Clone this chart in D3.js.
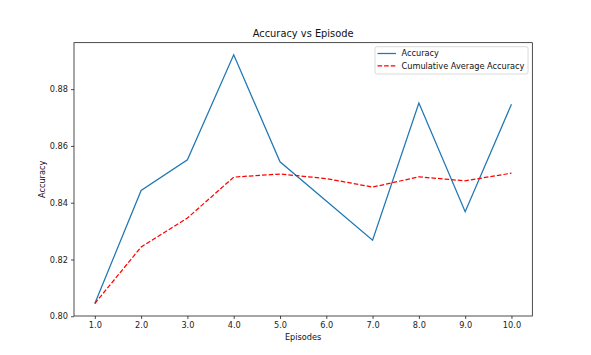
<!DOCTYPE html>
<html>
<head>
<meta charset="utf-8">
<script src="https://cdn.jsdelivr.net/npm/d3@7"></script>
<style>
  html, body { margin: 0; padding: 0; background: #fff; }
  svg { display: block; font-family: "DejaVu Sans", sans-serif; }
</style>
</head>
<body>
<svg id="chart" width="591" height="355"></svg>
<script>
const episodes = [1, 2, 3, 4, 5, 6, 7, 8, 9, 10];
const accuracy = [0.8045, 0.8443, 0.8551, 0.8921, 0.8544, 0.8406, 0.8268, 0.8751, 0.8368, 0.8747];
const cumulativeAverage = [0.8045, 0.8244, 0.8346, 0.8490, 0.8501, 0.8485, 0.8455, 0.8491, 0.8477, 0.8504];
const xTicks = [1, 2, 3, 4, 5, 6, 7, 8, 9, 10];
const yTicks = [0.80, 0.82, 0.84, 0.86, 0.88];
const seriesNames = ["Accuracy", "Cumulative Average Accuracy"];

const svg = d3.select("#chart");
const L = 74, R = 532.3, T = 42.7, B = 316;

const x = d3.scaleLinear().domain([0.55, 10.45]).range([L, R]);
const y = d3.scaleLinear().domain([0.80009, 0.89635]).range([B, T]);

const tickFont = 8.2;

// Axes
const xAxis = d3.axisBottom(x).tickValues(xTicks).tickFormat(d3.format(".1f")).tickSizeOuter(0).tickSize(3).tickPadding(3);
const yAxis = d3.axisLeft(y).tickValues(yTicks).tickFormat(d3.format(".2f")).tickSizeOuter(0).tickSize(3).tickPadding(3);

const gx = svg.append("g").attr("transform", `translate(0,${B})`).call(xAxis);
const gy = svg.append("g").attr("transform", `translate(${L},0)`).call(yAxis);
[gx, gy].forEach(g => {
  g.select(".domain").remove();
  g.selectAll(".tick line").attr("stroke", "#000").attr("stroke-width", 0.7);
  g.selectAll(".tick text").attr("fill", "#222").style("font-size", tickFont + "px").style("font-family", "DejaVu Sans");
});

// Lines
const lineAcc = d3.line().x((d, i) => x(episodes[i])).y(d => y(d));
svg.append("path").datum(accuracy).attr("d", lineAcc)
  .attr("fill", "none").attr("stroke", "#1f77b4").attr("stroke-width", 1.25).attr("stroke-linejoin", "miter");
svg.append("path").datum(cumulativeAverage).attr("d", lineAcc)
  .attr("fill", "none").attr("stroke", "#ff0000").attr("stroke-width", 1.25)
  .attr("stroke-dasharray", "4.6,2");

// Spines
svg.append("rect").attr("x", L).attr("y", T).attr("width", R - L).attr("height", B - T)
  .attr("fill", "none").attr("stroke", "#000").attr("stroke-width", 0.7);

// Title and labels
svg.append("text").attr("x", (L + R) / 2).attr("y", 37.3).attr("text-anchor", "middle")
  .style("font-size", "9.85px").attr("fill", "#111").text("Accuracy vs Episode");
svg.append("text").attr("x", (L + R) / 2).attr("y", 340).attr("text-anchor", "middle")
  .style("font-size", tickFont + "px").attr("fill", "#111").text("Episodes");
svg.append("text").attr("transform", `translate(44.5,${(T + B) / 2}) rotate(-90)`).attr("text-anchor", "middle")
  .style("font-size", tickFont + "px").attr("fill", "#111").text("Accuracy");

// Legend
const lg = svg.append("g");
lg.append("rect").attr("x", 375).attr("y", 46.7).attr("width", 153).attr("height", 27.3)
  .attr("rx", 2).attr("fill", "#fff").attr("fill-opacity", 0.8).attr("stroke", "#d0d0d0").attr("stroke-width", 0.8);
const legendItems = [
  { name: seriesNames[0], color: "#1f77b4", dash: null },
  { name: seriesNames[1], color: "#ff0000", dash: "4.6,2" }
];
legendItems.forEach((it, i) => {
  const yy = 53.5 + i * 12.3;
  lg.append("line").attr("x1", 377.5).attr("x2", 396).attr("y1", yy).attr("y2", yy)
    .attr("stroke", it.color).attr("stroke-width", 1.25).attr("stroke-dasharray", it.dash);
  lg.append("text").attr("x", 401.5).attr("y", yy).attr("dy", "0.35em")
    .style("font-size", tickFont + "px").attr("fill", "#111").text(it.name);
});
</script>
</body>
</html>
